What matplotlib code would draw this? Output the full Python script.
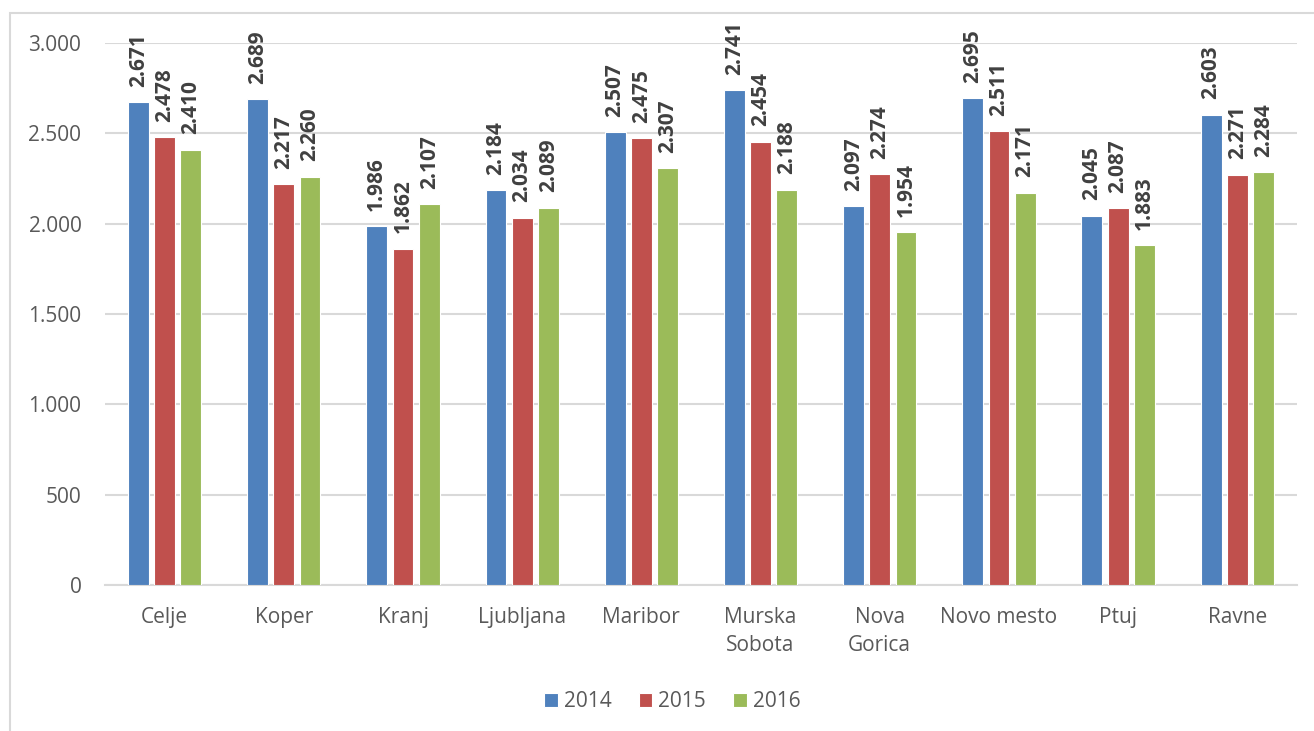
import numpy as np
import matplotlib.pyplot as plt
from matplotlib.patches import Rectangle

cities = ["Celje", "Koper", "Kranj", "Ljubljana", "Maribor", "Murska\nSobota",
          "Nova\nGorica", "Novo mesto", "Ptuj", "Ravne"]
years = ["2014", "2015", "2016"]
v2014 = [2671, 2689, 1986, 2184, 2507, 2741, 2097, 2695, 2045, 2603]
v2015 = [2478, 2217, 1862, 2034, 2475, 2454, 2274, 2511, 2087, 2271]
v2016 = [2410, 2260, 2107, 2089, 2307, 2188, 1954, 2171, 1883, 2284]
yticks = [0, 500, 1000, 1500, 2000, 2500, 3000]

colors = ["#4F81BD", "#C0504D", "#9BBB59"]
grid_col = "#D9D9D9"
txt_col = "#595959"

plt.rcParams['font.family'] = ['Open Sans', 'DejaVu Sans']

def fmt(v):
    # thousands separator as a dot
    return "{:,}".format(v).replace(",", ".")

fig = plt.figure(figsize=(13.14, 7.31), dpi=100)
ax = fig.add_axes([0.0799, 0.1997, 0.9071, 0.7415])

# outer chart border (right/bottom fall outside the image)
fig.patches.append(Rectangle((10 / 1314, -0.5), 2.0, 0.5 + 1 - 13 / 731,
                             transform=fig.transFigure, fill=False,
                             edgecolor=grid_col, linewidth=1.5))

x = np.arange(len(cities))
w = 0.175
step = 0.22
series = [v2014, v2015, v2016]
for i, vals in enumerate(series):
    pos = x + (i - 1) * step
    ax.bar(pos, vals, width=w, color=colors[i], edgecolor="white",
           linewidth=0.8, label=years[i], zorder=3)
    for p, v in zip(pos, vals):
        ax.annotate(fmt(v), (p, v), xytext=(0, 11), textcoords="offset points",
                    rotation=90, ha="center", va="bottom", fontsize=15,
                    fontweight="bold", color="#404040", annotation_clip=False)

ax.set_xlim(-0.5, len(cities) - 0.5)
ax.set_ylim(0, 3000)
ax.set_yticks(yticks)
ax.set_yticklabels([fmt(t) for t in yticks])
ax.set_xticks(x)
ax.set_xticklabels(cities, linespacing=1.45)
ax.tick_params(axis="both", length=0, labelsize=15, labelcolor=txt_col)
ax.tick_params(axis="y", pad=17)
ax.tick_params(axis="x", pad=16)
ax.grid(axis="y", color=grid_col, linewidth=1.5, zorder=0)
for s in ["top", "right", "left"]:
    ax.spines[s].set_visible(False)
ax.spines["bottom"].set_color(grid_col)
ax.spines["bottom"].set_linewidth(1.5)

leg = ax.legend(loc="center", bbox_to_anchor=(0.476, -0.215),
                ncol=3, frameon=False, fontsize=15, handlelength=0.65,
                handleheight=0.65, handletextpad=0.3, columnspacing=1.3)
for t in leg.get_texts():
    t.set_color(txt_col)

fig.savefig("out.png", dpi=100)
